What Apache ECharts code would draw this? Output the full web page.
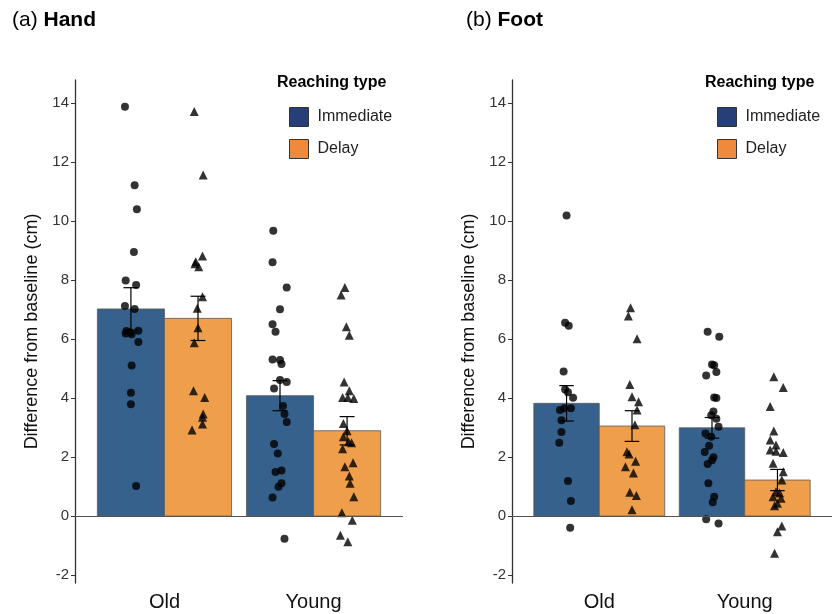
<!DOCTYPE html>
<html>
<head>
<meta charset="utf-8">
<script src="https://cdn.jsdelivr.net/npm/echarts@6/dist/echarts.min.js"></script>
<style>
html,body{margin:0;padding:0;background:#fff;}
#chart{width:832px;height:614px;}
</style>
</head>
<body>
<div id="chart"></div>
<script>
// ---- data ----
const categories = ['Old', 'Young'];
const groupNames = ['Immediate', 'Delay'];
const yTicks = [-2, 0, 2, 4, 6, 8, 10, 12, 14];

// bar means and standard errors [Old, Young]
const handImmMean = [7.02, 4.08];
const handImmSE = [0.72, 0.51];
const handDelMean = [6.70, 2.89];
const handDelSE = [0.75, 0.48];
const footImmMean = [3.82, 2.99];
const footImmSE = [0.60, 0.35];
const footDelMean = [3.05, 1.22];
const footDelSE = [0.52, 0.36];

// individual points (values) and their horizontal jitter (category units)
const handOldImmVals = [13.87, 11.21, 10.40, 8.95, 7.98, 7.83, 7.12, 7.02, 6.27, 6.23, 6.28, 6.19, 6.16, 5.90, 5.10, 4.18, 3.79, 1.02];
const handOldImmJit = [-0.04, 0.025, 0.04, 0.02, -0.035, 0.035, -0.04, 0.025, -0.03, -0.005, 0.05, -0.035, 0.005, 0.05, 0.005, 0, 0, 0.035];
const handOldDelVals = [13.71, 11.56, 8.81, 8.62, 8.55, 8.45, 7.43, 7.04, 6.38, 5.87, 4.25, 4.02, 3.46, 3.35, 3.12, 2.92];
const handOldDelJit = [-0.025, 0.035, 0.03, -0.015, -0.02, 0.005, 0.03, -0.005, 0, -0.025, -0.03, 0.045, 0.035, 0.03, 0.03, -0.04];
const handYoungImmVals = [9.67, 8.60, 7.75, 7.01, 6.50, 6.25, 5.31, 5.29, 5.15, 4.61, 4.54, 4.32, 3.73, 3.46, 3.19, 2.44, 2.12, 1.49, 1.54, 1.11, 0.99, 0.63, -0.77];
const handYoungImmJit = [-0.045, -0.05, 0.045, 0, -0.05, -0.03, -0.05, 0, 0.01, 0, 0.045, -0.04, 0.02, 0.03, 0.045, -0.04, -0.015, -0.03, 0.01, 0.01, -0.01, -0.05, 0.03];
const handYoungDelVals = [7.75, 7.49, 6.42, 6.13, 4.54, 4.25, 4.02, 4.02, 3.98, 3.14, 2.89, 2.69, 2.52, 2.48, 2.28, 1.67, 1.81, 1.36, 1.11, 0.65, 0.11, -0.14, -0.65, -0.87];
const handYoungDelJit = [-0.015, -0.04, -0.005, 0.015, -0.02, 0.015, -0.03, 0.005, 0.045, -0.025, 0, -0.025, 0.01, 0.03, -0.03, -0.015, 0.04, 0.015, 0.02, 0.045, -0.035, 0.035, -0.045, 0.005];

const footOldImmVals = [10.19, 6.55, 6.45, 4.90, 4.29, 4.20, 4.01, 3.59, 3.65, 3.65, 3.25, 2.85, 2.48, 1.19, 0.51, -0.40];
const footOldImmJit = [0, -0.01, 0.015, -0.02, -0.01, 0.01, 0.045, -0.045, -0.015, 0.03, -0.035, -0.035, -0.05, 0.01, 0.03, 0.025];
const footOldDelVals = [7.06, 6.78, 6.01, 4.46, 4.04, 3.87, 3.59, 3.09, 2.18, 2.10, 1.86, 1.67, 1.46, 0.81, 0.70, 0.21];
const footOldDelJit = [-0.01, -0.025, 0.035, -0.015, 0, 0.045, 0.035, 0.02, -0.035, -0.02, 0.025, -0.045, 0.01, -0.015, 0.03, 0];
const footYoungImmVals = [6.25, 6.08, 5.14, 5.11, 4.76, 4.88, 4.02, 4.00, 3.54, 3.42, 3.30, 3.03, 2.80, 2.69, 2.38, 2.17, 1.99, 1.89, 1.76, 1.11, 0.65, 0.47, -0.11, -0.25];
const footYoungImmJit = [-0.03, 0.05, 0, 0.015, -0.04, 0.03, 0.015, 0.03, 0.01, -0.005, 0.03, 0.045, -0.045, -0.005, -0.02, -0.05, 0.01, 0, -0.03, -0.025, 0.015, 0.005, -0.04, 0.045];
const footYoungDelVals = [4.72, 4.36, 3.71, 2.88, 2.58, 2.41, 2.24, 2.20, 2.15, 1.79, 1.50, 1.22, 0.82, 0.78, 0.65, 0.60, 0.43, 0.35, -0.34, -0.53, -1.26];
const footYoungDelJit = [-0.025, 0.04, -0.05, -0.025, -0.05, -0.01, -0.05, -0.01, 0.04, -0.03, 0.04, 0.03, -0.01, 0.015, -0.03, 0.025, 0, -0.02, 0.03, 0, -0.02];

// ---- style ----
const FONT = '"Liberation Sans", Arial, Helvetica, sans-serif';
const barColors = ['#37618D', '#EF9E4B'];
const legendColors = ['#263F78', '#EF8A3C'];
const DODGE = 0.225;   // half of the dodged bar width (category units)
const BARW = 0.45;

function barRender(params, api) {
  const x = api.value(0), m = api.value(1);
  const p1 = api.coord([x - BARW / 2, m]);
  const p2 = api.coord([x + BARW / 2, 0]);
  return {
    type: 'rect',
    shape: { x: p1[0], y: Math.min(p1[1], p2[1]), width: p2[0] - p1[0], height: Math.abs(p2[1] - p1[1]) },
    style: { fill: api.visual('color'), stroke: '#5a5a5a', lineWidth: 0.8 }
  };
}
function errRender(params, api) {
  const x = api.value(0), m = api.value(1), se = api.value(2);
  const top = api.coord([x, m + se]);
  const bot = api.coord([x, m - se]);
  const half = api.size([0.05, 0])[0];
  const st = { stroke: '#000', lineWidth: 1.2 };
  return {
    type: 'group',
    children: [
      { type: 'line', shape: { x1: top[0], y1: top[1], x2: bot[0], y2: bot[1] }, style: st },
      { type: 'line', shape: { x1: top[0] - half, y1: top[1], x2: top[0] + half, y2: top[1] }, style: st },
      { type: 'line', shape: { x1: bot[0] - half, y1: bot[1], x2: bot[0] + half, y2: bot[1] }, style: st }
    ]
  };
}

function panelSeries(gi, immMean, immSE, delMean, delSE, pts) {
  const out = [];
  const means = [immMean, delMean];
  const ses = [immSE, delSE];
  for (let g = 0; g < 2; g++) {
    const off = g === 0 ? -DODGE : DODGE;
    out.push({
      type: 'custom', name: groupNames[g], xAxisIndex: gi, yAxisIndex: gi,
      renderItem: barRender, itemStyle: { color: barColors[g] }, z: 2,
      encode: { x: 0, y: 1 },
      data: means[g].map((m, i) => [i + 1 + off, m]),
      markLine: g === 1 ? {
        silent: true, symbol: 'none', label: { show: false },
        lineStyle: { color: '#555', width: 1, type: 'solid' },
        data: [{ yAxis: 0 }]
      } : undefined
    });
  }
  for (let g = 0; g < 2; g++) {
    const off = g === 0 ? -DODGE : DODGE;
    out.push({
      type: 'custom', name: 'err' + g, xAxisIndex: gi, yAxisIndex: gi,
      renderItem: errRender, z: 3, encode: { x: 0, y: 1 },
      data: means[g].map((m, i) => [i + 1 + off, m, ses[g][i]])
    });
  }
  pts.forEach(p => {
    out.push({
      type: 'scatter', name: 'pts', xAxisIndex: gi, yAxisIndex: gi, z: 4,
      symbol: p.g === 0 ? 'circle' : 'triangle', symbolSize: p.g === 0 ? 8 : 9,
      itemStyle: { color: '#000' },
      data: p.vals.map((v, i) => [p.cat + (p.g === 0 ? -DODGE : DODGE) + p.jit[i], v])
    });
  });
  return out;
}

const series = [].concat(
  panelSeries(0, handImmMean, handImmSE, handDelMean, handDelSE, [
    { cat: 1, g: 0, vals: handOldImmVals, jit: handOldImmJit },
    { cat: 1, g: 1, vals: handOldDelVals, jit: handOldDelJit },
    { cat: 2, g: 0, vals: handYoungImmVals, jit: handYoungImmJit },
    { cat: 2, g: 1, vals: handYoungDelVals, jit: handYoungDelJit }
  ]),
  panelSeries(1, footImmMean, footImmSE, footDelMean, footDelSE, [
    { cat: 1, g: 0, vals: footOldImmVals, jit: footOldImmJit },
    { cat: 1, g: 1, vals: footOldDelVals, jit: footOldDelJit },
    { cat: 2, g: 0, vals: footYoungImmVals, jit: footYoungImmJit },
    { cat: 2, g: 1, vals: footYoungDelVals, jit: footYoungDelJit }
  ])
);

function xAxisDef(gi) {
  return {
    type: 'value', gridIndex: gi, min: 0.4, max: 2.6,
    axisLine: { show: false }, axisTick: { show: false }, splitLine: { show: false },
    axisLabel: {
      customValues: [1, 2], margin: 9,
      formatter: v => categories[Math.round(v) - 1],
      fontSize: 20, color: '#111', fontFamily: FONT
    }
  };
}
function yAxisDef(gi) {
  return {
    type: 'value', gridIndex: gi, min: -2.27, max: 14.78,
    axisLine: { show: true, lineStyle: { color: '#333', width: 1.3 } },
    axisTick: { show: true, customValues: yTicks, length: 4, lineStyle: { color: '#333', width: 1 } },
    axisLabel: { customValues: yTicks, fontSize: 15, color: '#333', margin: 6, fontFamily: FONT },
    splitLine: { show: false },
    name: 'Difference from baseline (cm)', nameLocation: 'middle', nameGap: 34,
    nameTextStyle: { fontSize: 18, color: '#111', fontFamily: FONT }
  };
}
function legendDef(left) {
  return {
    left: left, top: 102, orient: 'vertical', itemWidth: 19, itemHeight: 19, itemGap: 12,
    icon: 'rect', selectedMode: false,
    textStyle: { fontSize: 16, color: '#222', fontFamily: FONT, padding: [0, 0, 0, 4] },
    data: groupNames.map((n, i) => ({ name: n, itemStyle: { color: legendColors[i], borderColor: '#333', borderWidth: 1 } }))
  };
}
const titleRich = {
  n: { fontSize: 21, color: '#000', fontWeight: 'normal', fontFamily: FONT },
  b: { fontSize: 21, color: '#000', fontWeight: 'bold', fontFamily: FONT }
};

const option = {
  animation: false,
  backgroundColor: '#fff',
  textStyle: { fontFamily: FONT },
  title: [
    { text: '{n|(a) }{b|Hand}', left: 7, top: 5, textStyle: { fontWeight: 'normal', rich: titleRich } },
    { text: '{n|(b) }{b|Foot}', left: 461, top: 5, textStyle: { fontWeight: 'normal', rich: titleRich } },
    { text: 'Reaching type', left: 272, top: 70, textStyle: { fontSize: 16, fontWeight: 'bold', color: '#000', fontFamily: FONT } },
    { text: 'Reaching type', left: 700, top: 70, textStyle: { fontSize: 16, fontWeight: 'bold', color: '#000', fontFamily: FONT } }
  ],
  legend: [legendDef(284), legendDef(712)],
  grid: [
    { left: 75, top: 80, width: 328, height: 503 },
    { left: 512, top: 80, width: 328, height: 503 }
  ],
  xAxis: [xAxisDef(0), xAxisDef(1)],
  yAxis: [yAxisDef(0), yAxisDef(1)],
  series: series
};

const chart = echarts.init(document.getElementById('chart'), null, { renderer: 'canvas' });
chart.setOption(option);
</script>
</body>
</html>
